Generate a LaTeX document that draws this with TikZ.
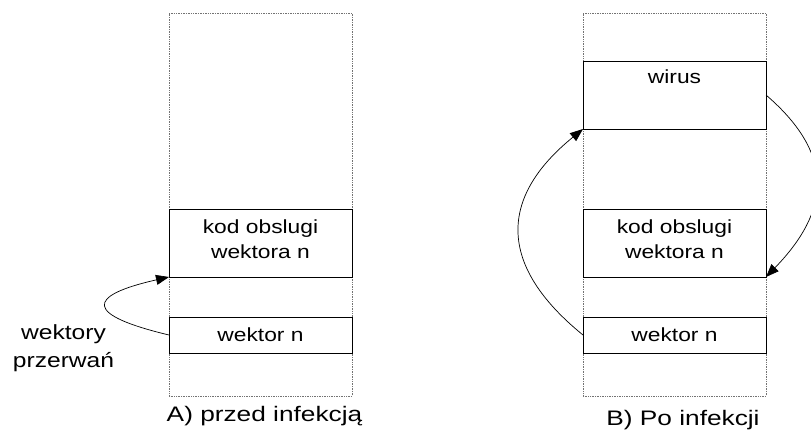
\documentclass[tikz,border=0pt]{standalone}
\usepackage{fontspec}
\setmainfont{Liberation Sans}
\usetikzlibrary{arrows.meta}
% horizontally stretched text
\newcommand\hstretch[2]{\scalebox{#1}[1]{#2}}

\begin{document}
\begin{tikzpicture}[x=1pt,y=-1pt,
  memory/.style={draw=black!55, dash pattern=on 1pt off 0.7pt, line width=0.9pt,
                 minimum width=183pt, minimum height=383pt, inner sep=0pt, outer sep=0pt},
  cell/.style={draw=black, line width=0.9pt, minimum width=183pt, inner sep=0pt, outer sep=0pt},
  celltext/.style={font=\fontsize{19}{25}\selectfont, inner sep=0pt, align=center},
  sidetext/.style={font=\fontsize{20.5}{28}\selectfont, inner sep=0pt, align=center},
  caption/.style={font=\fontsize{21}{25}\selectfont, inner sep=0pt},
  jump/.style={line width=0.7pt, -{Triangle[length=13pt,width=10pt]}}]
\useasboundingbox (0,0) rectangle (811,430);

% A) memory before infection
\node[memory] (memA) at (260.5,204.5) {};
\node[cell, minimum height=68pt] (kodA) at (260.5,243) {};
\node[cell, minimum height=36pt] (wekA) at (260.5,335) {};
\node[celltext, anchor=north] (kodAt) at (260.5,219.5)
  {\hstretch{1.2}{kod obslugi}\\\hstretch{1.2}{wektora n}};
\node[celltext, anchor=base] (wekAt) at (260.5,341) {\hstretch{1.2}{wektor n}};
\node[caption, anchor=base] (capA) at (264.5,421.5) {\hstretch{1.25}{A) przed infekcją}};
\node[sidetext, anchor=north] (irq) at (63.5,324)
  {\hstretch{1.2}{wektory}\\\hstretch{1.2}{przerwań}};

\draw[jump] (wekA.west) .. controls +(-84,-20) and +(-84,19) .. (kodA.south west);

% B) memory after infection
\node[memory] (memB) at (674.5,204.5) {};
\node[cell, minimum height=68pt] (wirB) at (674.5,95) {};
\node[cell, minimum height=68pt] (kodB) at (674.5,243) {};
\node[cell, minimum height=36pt] (wekB) at (674.5,335) {};
\node[celltext, anchor=base] (wirBt) at (674.5,84) {\hstretch{1.2}{wirus}};
\node[celltext, anchor=north] (kodBt) at (674.5,219.5)
  {\hstretch{1.2}{kod obslugi}\\\hstretch{1.2}{wektora n}};
\node[celltext, anchor=base] (wekBt) at (674.5,341) {\hstretch{1.2}{wektor n}};
\node[caption, anchor=base] (capB) at (683,425) {\hstretch{1.25}{B) Po infekcji}};

\draw[jump] (wekB.west) .. controls +(-85,-69) and +(-85,69) .. (wirB.south west);
\draw[jump] (wirB.east) .. controls +(71,61) and +(63,-65) .. (kodB.south east);
\end{tikzpicture}
\end{document}
